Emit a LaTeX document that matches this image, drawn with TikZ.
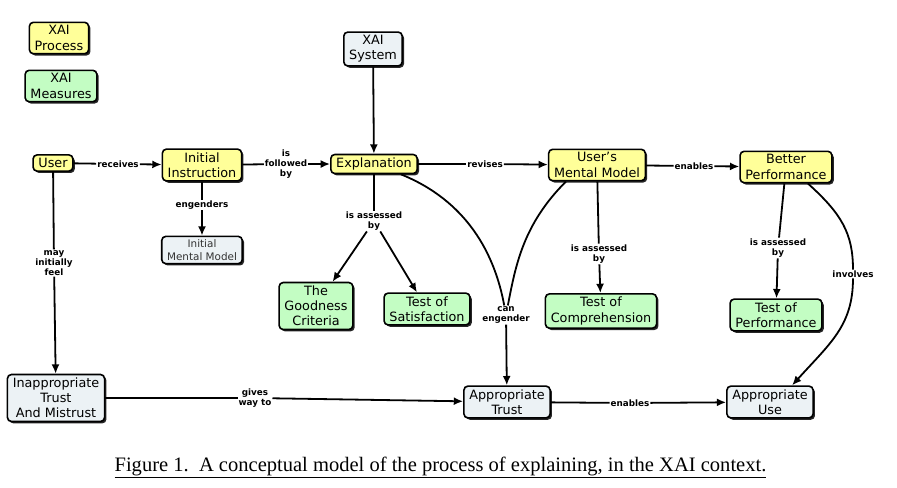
\documentclass[tikz,border=0pt]{standalone}
\usepackage{fontspec}
\setmainfont{DejaVu Sans}
\newfontfamily\capfont{Liberation Serif}
\usetikzlibrary{arrows.meta,shadows}

\definecolor{procYellow}{RGB}{255,255,153}
\definecolor{measGreen}{RGB}{195,253,195}
\definecolor{sysGray}{RGB}{236,242,245}

\tikzset{
	concept/.style={draw=black, line width=1.2pt, rounded corners=3pt, align=center,
		font=\fontsize{9.6}{11.4}\selectfont, inner xsep=4pt, inner ysep=2.5pt,
		general shadow={fill=black!85, shadow xshift=1.4pt, shadow yshift=-1.4pt}},
	process/.style={concept, fill=procYellow},
	measure/.style={concept, fill=measGreen},
	plain/.style={concept, fill=sysGray},
	phrase/.style={fill=white, inner sep=0.6pt, align=center, font=\fontsize{6.6}{7.6}\selectfont\bfseries},
	link/.style={line width=1.35pt},
	arr/.style={line width=1.35pt, -{Latex[length=7pt,width=6pt]}},
}

\begin{document}
\begin{tikzpicture}[x=0.75pt,y=0.75pt,yscale=-1,xscale=1]
			\useasboundingbox (0,0) rectangle (897,487);

			% Legend
			\node[process] (legProc) at (59,38) {XAI\\Process};
			\node[measure] (legMeas) at (61,86) {XAI\\Measures};

			% Concepts
			\node[plain] (xaiSys) at (373,49) {XAI\\System};
			\node[process] (user) at (53,163) {User};
			\node[process] (instr) at (202,165) {Initial\\Instruction};
			\node[process] (expl) at (374,164) {Explanation};
			\node[process] (umm) at (597,165) {User's\\Mental Model};
			\node[process] (better) at (786,167) {Better\\Performance};
			\node[plain, font=\fontsize{7.8}{9.4}\selectfont, text=black!80] (initMM) at (202,250) {Initial\\Mental Model};
			\node[measure] (goodness) at (316,306) {The\\Goodness\\Criteria};
			\node[measure] (satisf) at (427,309) {Test of\\Satisfaction};
			\node[measure] (compr) at (601,311) {Test of\\Comprehension};
			\node[measure] (perf) at (776,315) {Test of\\Performance};
			\node[plain] (inappr) at (56,398) {Inappropriate\\Trust\\And Mistrust};
			\node[plain] (apTrust) at (507,402) {Appropriate\\Trust};
			\node[plain] (apUse) at (770,402) {Appropriate\\Use};

			% Linking phrases
			\node[phrase] (pRecv) at (118,164) {receives};
			\node[phrase] (pFollow) at (286,164) {is\\followed\\by};
			\node[phrase] (pRevise) at (485,164) {revises};
			\node[phrase] (pEnable) at (694,166) {enables};
			\node[phrase] (pEngen) at (202,205) {engenders};
			\node[phrase] (pAssExpl) at (374,221) {is assessed\\by};
			\node[phrase] (pAssUmm) at (599,254) {is assessed\\by};
			\node[phrase] (pAssBetter) at (778,248) {is assessed\\by};
			\node[phrase] (pInvolve) at (853,274) {involves};
			\node[phrase] (pFeel) at (54,263) {may\\initially\\feel};
			\node[phrase] (pCan) at (506,315) {can\\engender};
			\node[phrase] (pGives) at (255,398) {gives\\way to};
			\node[phrase] (pEnable2) at (630,403) {enables};

			% Connectors (angles are flipped by yscale=-1)
			\draw[link] (user) -- (pRecv);
			\draw[arr] (pRecv) -- (instr);
			\draw[link] (instr) -- (pFollow);
			\draw[arr] (pFollow) -- (expl);
			\draw[link] (expl) -- (pRevise);
			\draw[arr] (pRevise) -- (umm);
			\draw[link] (umm) -- (pEnable);
			\draw[arr] (pEnable) -- (better);
			\draw[arr] (xaiSys) -- (expl);
			\draw[link] (instr) -- (pEngen);
			\draw[arr] (pEngen) -- (initMM);
			\draw[link] (expl) -- (pAssExpl);
			\draw[arr] (pAssExpl) -- (goodness);
			\draw[arr] (pAssExpl) -- (satisf);
			\draw[link] (umm) -- (pAssUmm);
			\draw[arr] (pAssUmm) -- (compr);
			\draw[link] (better) -- (pAssBetter);
			\draw[arr] (pAssBetter) -- (perf);
			\draw[link] (user) -- (pFeel);
			\draw[arr] (pFeel) -- (inappr);
			\draw[link] (inappr) -- (pGives);
			\draw[arr] (pGives) -- (apTrust);
			\draw[link] (apTrust) -- (pEnable2);
			\draw[arr] (pEnable2) -- (apUse);
			\draw[link] (expl.-21) to[out=22,in=-98] (pCan);
			\draw[link] (umm.-152) to[out=135,in=-82] (pCan);
			\draw[arr] (pCan) -- (apTrust);
			\draw[link] (better.-37) to[out=42,in=-90,looseness=1.1] (pInvolve);
			\draw[arr] (pInvolve) to[out=90,in=-48,looseness=1.1] (apUse.37);

			% Caption
			\node[anchor=base, inner sep=0pt, font=\capfont\fontsize{15.4}{17}\selectfont] (caption) at (440.5,471) {\underline{Figure 1.\ \ A conceptual model of the process of explaining, in the XAI context.}};

		\end{tikzpicture}
\end{document}
